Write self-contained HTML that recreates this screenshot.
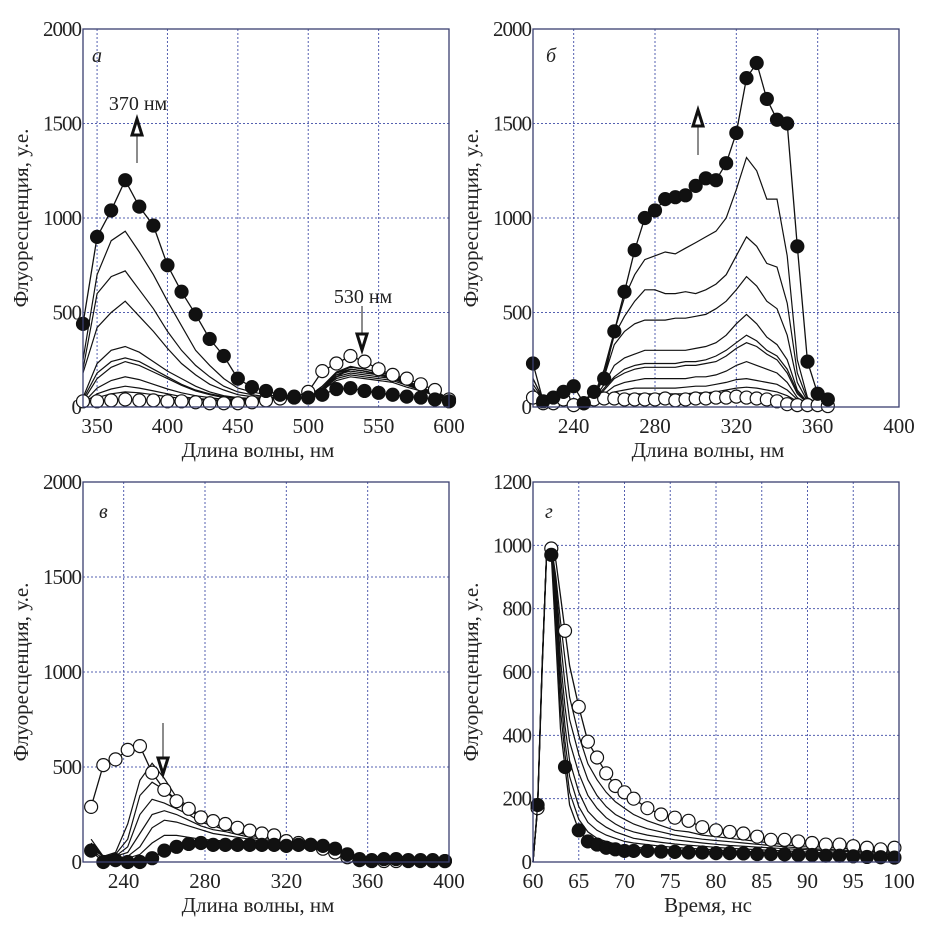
<!DOCTYPE html>
<html><head><meta charset="utf-8">
<style>
html,body{margin:0;padding:0;background:#fff;}
svg{display:block;font-family:"Liberation Serif",serif;}
</style></head>
<body>
<svg id="fig" width="950" height="925" viewBox="0 0 950 925" xmlns="http://www.w3.org/2000/svg"></svg>
<script>
// ---------- Panel a data ----------
const aX = [340,350,360,370,380,390,400,410,420,430,440,450,460,470,480,490,500,510,520,530,540,550,560,570,580,590,600];
const aFilled = [440,900,1040,1200,1060,960,750,610,490,360,270,150,105,85,65,55,50,65,95,100,85,75,65,55,50,40,30];
const aL1 = [250,700,880,930,820,700,560,430,300,220,150,100,80,65,55,50,50,80,160,200,190,170,150,120,90,60,40];
const aL2 = [200,600,690,720,620,520,400,300,220,160,110,80,65,55,50,50,55,90,170,200,190,175,160,130,95,65,40];
const aL3 = [180,420,500,560,480,400,310,230,170,120,90,65,55,50,50,50,55,100,180,210,200,185,165,135,100,70,45];
const aL4 = [50,230,300,320,290,240,190,150,110,80,60,50,45,45,45,50,55,100,170,190,180,170,155,125,95,65,40];
const aL5 = [40,180,240,260,240,200,160,120,90,70,55,45,45,45,45,50,55,110,180,200,190,175,160,130,100,70,45];
const aL6 = [30,150,210,240,220,185,150,115,85,65,50,45,40,40,45,50,55,110,185,215,200,185,170,140,105,75,45];
const aL7 = [20,100,140,160,145,120,95,75,60,50,40,40,35,40,45,45,50,100,160,180,170,160,150,120,90,65,40];
const aL8 = [20,70,95,110,100,85,70,55,45,40,35,35,35,35,40,45,50,95,150,170,160,150,140,115,90,60,40];
const aL9 = [15,50,70,80,75,65,55,45,40,35,30,30,30,35,40,45,50,90,140,160,150,140,130,105,85,60,40];
const aOpen = [30,30,35,40,35,35,30,30,25,20,20,20,25,35,45,50,80,190,230,270,240,200,170,150,120,90,40];
const aXTicks = [350,400,450,500,550,600];
const aYTicks = [0,500,1000,1500,2000];

// ---------- Panel b data ----------
const bX = [220,225,230,235,240,245,250,255,260,265,270,275,280,285,290,295,300,305,310,315,320,325,330,335,340,345,350,355,360,365];
const bFilled = [230,30,50,80,110,20,80,150,400,610,830,1000,1040,1100,1110,1120,1170,1210,1200,1290,1450,1740,1820,1630,1520,1500,850,240,70,40];
const bL1 = [150,40,30,20,10,20,60,200,400,580,700,780,800,820,810,840,870,900,930,1000,1150,1320,1250,1100,1100,800,250,50,20,10];
const bL2 = [150,40,30,20,10,20,50,180,380,480,560,620,620,600,600,610,600,620,650,700,800,900,850,760,740,550,180,40,15,10];
const bL3 = [120,40,30,20,10,20,50,160,330,400,440,460,460,460,470,470,480,490,520,560,620,690,640,560,520,380,130,30,15,10];
const bL4 = [100,30,30,20,10,20,40,120,220,260,280,300,300,300,300,300,310,320,340,380,440,490,440,370,330,250,90,25,10,10];
const bL5 = [80,30,20,20,10,20,40,100,160,200,220,230,230,230,230,240,240,250,270,300,340,380,350,300,270,200,80,20,10,10];
const bL6 = [70,30,20,20,10,15,35,90,150,180,200,210,210,210,210,220,220,230,240,270,310,340,320,280,250,180,70,20,10,10];
const bL7 = [60,25,20,15,10,15,30,70,110,130,140,150,150,150,150,150,160,160,170,190,220,240,220,200,180,130,50,15,10,10];
const bL8 = [50,20,20,15,10,15,25,50,80,90,100,100,100,100,100,105,110,110,120,130,145,150,140,130,120,90,40,15,10,10];
const bL9 = [40,20,15,10,10,10,20,40,55,65,70,70,70,70,70,70,75,75,80,90,100,105,100,90,80,60,30,10,10,10];
const bOpen = [50,20,20,40,10,20,40,45,45,40,40,40,40,45,35,40,45,45,50,50,55,50,45,40,30,15,10,10,10,5];
const bXTicks = [240,280,320,360,400];
const bYTicks = [0,500,1000,1500,2000];

// ---------- Panel c data ----------
const cX = [224,230,236,242,248,254,260,266,272,278,284,290,296,302,308,314,320,326,332,338,344,350,356,362,368,374,380,386,392,398];
const cFilled = [60,0,10,0,0,20,60,80,95,100,90,90,90,90,90,90,85,90,90,85,70,40,15,10,15,15,10,10,10,5];
const cOpen = [290,510,540,590,610,470,380,320,280,235,215,200,180,165,150,140,110,100,90,70,50,25,10,5,5,5,5,5,5,5];
const cL1 = [120,30,50,200,430,520,440,340,290,240,210,190,170,160,150,130,110,100,90,75,50,25,10,5,5,5,5,5,5,5];
const cL2 = [100,30,40,120,350,420,380,330,280,230,200,180,160,150,140,120,105,95,90,75,50,25,10,5,5,5,5,5,5,5];
const cL3 = [90,30,30,80,250,330,310,280,250,210,190,170,155,140,130,120,100,95,90,75,50,25,10,5,5,5,5,5,5,5];
const cL4 = [80,30,30,50,150,250,270,250,220,190,170,160,145,130,120,110,100,95,90,75,50,25,10,5,5,5,5,5,5,5];
const cL5 = [70,30,20,30,80,180,220,210,190,170,150,140,130,120,110,100,95,90,90,75,50,25,10,5,5,5,5,5,5,5];
const cL6 = [60,20,20,20,40,100,140,140,130,120,115,110,110,105,100,95,90,90,85,75,50,25,10,5,5,5,5,5,5,5];
const cXTicks = [240,280,320,360,400];
const cYTicks = [0,500,1000,1500,2000];

// ---------- Panel d data ----------
const dX = [60,60.5,61,61.5,62,62.5,63,63.5,64,65,66,67,68,69,70,71,72.5,74,75.5,77,78.5,80,81.5,83,84.5,86,87.5,89,90.5,92,93.5,95,96.5,98,99.5];
const dOpen = [0,170,600,980,990,950,840,730,620,490,380,330,280,240,220,200,170,150,140,130,110,100,95,90,80,70,70,65,60,55,55,50,45,40,45];
const dFilled = [0,180,620,980,970,700,420,300,180,100,65,55,45,40,35,35,35,33,32,30,30,28,28,27,25,25,24,22,22,20,20,18,16,15,14];
const dL1 = [0,170,610,990,1000,900,760,640,520,400,310,260,220,190,170,150,130,115,100,95,85,80,75,70,65,60,55,50,50,45,45,40,40,35,35];
const dL2 = [0,170,610,990,1000,880,700,560,450,340,260,210,175,150,135,120,105,95,85,78,72,68,64,60,56,52,48,45,42,40,38,36,34,32,30];
const dL3 = [0,175,615,990,990,860,640,490,380,280,210,170,140,120,105,95,85,78,70,65,60,56,52,50,47,45,42,40,38,36,34,32,30,28,27];
const dL4 = [0,175,615,985,985,830,590,430,320,220,160,130,110,95,85,75,68,62,57,53,50,46,43,41,39,37,35,33,31,30,28,27,25,24,23];
const dL5 = [0,178,618,985,980,800,540,380,270,175,125,100,85,75,65,60,55,50,46,43,41,38,36,34,32,30,29,27,26,25,24,22,21,20,19];
const dL6 = [0,178,618,982,975,760,480,340,220,135,95,75,65,57,50,47,43,40,38,36,34,32,30,29,28,26,25,24,23,22,21,20,19,18,17];
const dXTicks = [60,65,70,75,80,85,90,95,100];
const dYTicks = [0,200,400,600,800,1000,1200];

const NS = 'http://www.w3.org/2000/svg';
const svg = document.getElementById('fig');
function mk(tag, attrs, parent){
  const e = document.createElementNS(NS, tag);
  for (const k in attrs) e.setAttribute(k, attrs[k]);
  (parent||svg).appendChild(e);
  return e;
}

function panel(cfg){
  const g = mk('g', {});
  
  
  const L=cfg.left, R=cfg.right, T=cfg.top, B=cfg.bottom;
  const sx = v => L + (v - cfg.xmin) / (cfg.xmax - cfg.xmin) * (R - L);
  const sy = v => B - (v - cfg.ymin) / (cfg.ymax - cfg.ymin) * (B - T);
  cfg.xTicks.forEach(t => {
    if (t > cfg.xmin && t < cfg.xmax) {
      const ln = mk('line', {x1:sx(t), x2:sx(t), y1:T, y2:B, stroke:'#5560b0', 'stroke-width':1, 'stroke-dasharray':'2,2'}, g);
      
      
    }
  });
  cfg.yTicks.forEach(t => {
    if (t > cfg.ymin && t < cfg.ymax) {
      const ln = mk('line', {x1:L, x2:R, y1:sy(t), y2:sy(t), stroke:'#5560b0', 'stroke-width':1, 'stroke-dasharray':'2,2'}, g);
      
      
    }
  });
  cfg.xTicks.forEach(t => {
    const tx = mk('text', {x:sx(t), y:B+26, 'text-anchor':'middle', 'font-size':21, fill:'#222'}, g);
    tx.textContent = t;
    
    
  });
  cfg.yTicks.forEach(t => {
    const tx = mk('text', {x:L-2, y:sy(t)+7, 'text-anchor':'end', 'font-size':21, fill:'#222', 'letter-spacing':'-1'}, g);
    tx.textContent = t;
    
    
  });
  const clipId = cfg.name + '-clip';
  const defs = mk('defs', {}, g);
  const cp = mk('clipPath', {id: clipId}, defs);
  mk('rect', {x:L-8, y:T, width:R-L+16, height:B-T+8}, cp);
  const sg = mk('g', {'clip-path':'url(#'+clipId+')'}, g);
  cfg.lines.forEach(s => {
    const d = cfg.x.map((v,i) => (i?'L':'M') + sx(v).toFixed(1) + ',' + sy(s[i]).toFixed(1)).join(' ');
    const p = mk('path', {d:d, fill:'none', stroke:'#111', 'stroke-width':1.2}, sg);
    
    
  });
  const skip = cfg.noMarkerX || [];
  [[cfg.open,'#fff','open'],[cfg.filled,'#111','filled']].forEach(([s,fill,kind]) => {
    const d = cfg.x.map((v,i) => (i?'L':'M') + sx(v).toFixed(1) + ',' + sy(s[i]).toFixed(1)).join(' ');
    const p = mk('path', {d:d, fill:'none', stroke:'#111', 'stroke-width':1.3}, sg);
    
    
    cfg.x.forEach((v,i) => {
      if (skip.indexOf(v) >= 0) return;
      const c = mk('circle', {cx:sx(v), cy:sy(s[i]), r:6.5, fill:fill, stroke:'#111', 'stroke-width':1.2}, sg);
      
      
    });
  });
  const fr = mk('rect', {x:L, y:T, width:R-L, height:B-T, fill:'none', stroke:'#3a3f70', 'stroke-width':1.3}, g);
  
  
  const xt = mk('text', {x:(L+R)/2 - 8, y:B+50, 'text-anchor':'middle', 'font-size':21, fill:'#222'}, g);
  xt.textContent = cfg.xTitle;
  
  
  const yx = L - 55, yy = (T+B)/2;
  const yt = mk('text', {x:yx, y:yy, 'text-anchor':'middle', 'font-size':21, fill:'#222', transform:'rotate(-90 '+yx+' '+yy+')'}, g);
  yt.textContent = 'Флуоресценция, у.е.';
  
  
  const pl = mk('text', {x:cfg.labX, y:cfg.labY, 'font-size':20, 'font-style':'italic', fill:'#222'}, g);
  pl.textContent = cfg.letter;
  
  
  return {g, sx, sy};
}

function arrow(g, x, y1, y2, name){
  const ln = mk('line', {x1:x, x2:x, y1:y1, y2:y2, stroke:'#666', 'stroke-width':1.5}, g);
  
  
  const dir = y2 < y1 ? -1 : 1;
  const pts = [[x, y2],[x-5, y2 - dir*16],[x+5, y2 - dir*16]].map(p=>p.join(',')).join(' ');
  const hd = mk('polygon', {points:pts, fill:'#fff', stroke:'#111', 'stroke-width':3, 'stroke-linejoin':'miter'}, g);
  
  
}
function label(g, x, y, txt, name){
  const t = mk('text', {x:x, y:y, 'font-size':20, fill:'#222', 'text-anchor':'middle'}, g);
  t.textContent = txt;
  
  
}

const pa = panel({name:'panel-a', left:83, right:449, top:29, bottom:407, xmin:340, xmax:600, ymin:0, ymax:2000,
  x:aX, lines:[aL1,aL2,aL3,aL4,aL5,aL6,aL7,aL8,aL9], open:aOpen, filled:aFilled,
  xTicks:aXTicks, yTicks:aYTicks, xTitle:'Длина волны, нм', letter:'а', labX:92, labY:62});
arrow(pa.g, 137, 163, 119, 'arrow-370');
label(pa.g, 138, 110, '370 нм', 'annotation-370nm');
arrow(pa.g, 362, 306, 350, 'arrow-530');
label(pa.g, 363, 303, '530 нм', 'annotation-530nm');

const pb = panel({name:'panel-b', left:533, right:899, top:29, bottom:407, xmin:220, xmax:400, ymin:0, ymax:2000,
  x:bX, lines:[bL1,bL2,bL3,bL4,bL5,bL6,bL7,bL8,bL9], open:bOpen, filled:bFilled,
  xTicks:bXTicks, yTicks:bYTicks, xTitle:'Длина волны, нм', letter:'б', labX:546, labY:62});
arrow(pb.g, 698, 155, 110, 'arrow-b');

const pc = panel({name:'panel-c', left:83, right:449, top:482, bottom:862, xmin:220, xmax:400, ymin:0, ymax:2000,
  x:cX, lines:[cL1,cL2,cL3,cL4,cL5,cL6], open:cOpen, filled:cFilled,
  xTicks:cXTicks, yTicks:cYTicks, xTitle:'Длина волны, нм', letter:'в', labX:99, labY:518});
arrow(pc.g, 163, 723, 774, 'arrow-c');

const pd = panel({name:'panel-d', left:533, right:899, top:482, bottom:862, xmin:60, xmax:100, ymin:0, ymax:1200,
  x:dX, lines:[dL1,dL2,dL3,dL4,dL5,dL6], open:dOpen, filled:dFilled, noMarkerX:[60,61,61.5,62.5,63,64],
  xTicks:dXTicks, yTicks:dYTicks, xTitle:'Время, нс', letter:'г', labX:545, labY:518});
</script>
</body></html>
